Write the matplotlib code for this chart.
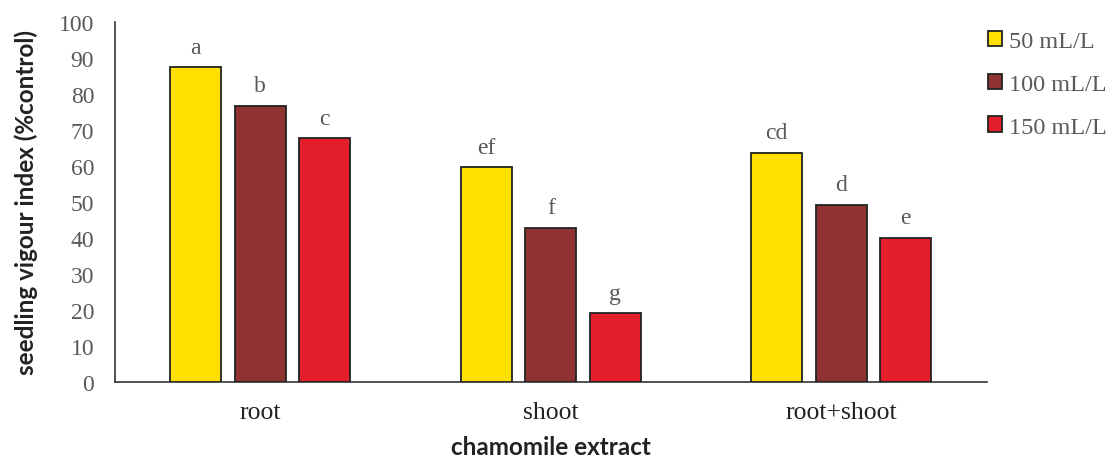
import numpy as np
import matplotlib.pyplot as plt

# Data
categories = ['root', 'shoot', 'root+shoot']
series = ['50 mL/L', '100 mL/L', '150 mL/L']
v50 = [87.4, 59.6, 63.6]
v100 = [76.8, 42.8, 49.2]
v150 = [67.7, 19.1, 40.0]
letters50 = ['a', 'ef', 'cd']
letters100 = ['b', 'f', 'd']
letters150 = ['c', 'g', 'e']

colors = ['#FFE000', '#8E3232', '#E41E2A']
serif = 'Liberation Serif'
gray = '#595959'

fig = plt.figure(figsize=(11.11, 4.6), dpi=100)
ax = fig.add_axes([0.1035, 0.1674, 0.7845, 0.7826])

x = np.arange(len(categories))
width = 0.175
offsets = [-0.222, 0.0, 0.222]
handles = []
for vals, labs, off, col, name in zip([v50, v100, v150],
                                      [letters50, letters100, letters150],
                                      offsets, colors, series):
    b = ax.bar(x + off, vals, width, color=col, edgecolor='#222222',
               linewidth=1.3, label=name, zorder=3)
    handles.append(b)
    for xi, v, t in zip(x + off, vals, labs):
        ax.annotate(t, (xi, v), xytext=(0, 7), textcoords='offset points',
                    ha='center', va='bottom', fontsize=17, color=gray,
                    family=serif)

ax.set_xlim(-0.5, 2.5)
ax.set_ylim(0, 100)
ax.set_yticks(range(0, 101, 10))
ax.set_xticks(x)
ax.set_xticklabels(categories, family=serif, fontsize=18.5, color='#222222')
for lab in ax.get_yticklabels():
    lab.set_family(serif)
    lab.set_fontsize(17)
    lab.set_color(gray)
ax.tick_params(axis='both', length=0)
ax.tick_params(axis='y', pad=15)
ax.tick_params(axis='x', pad=14)
for s in ['top', 'right']:
    ax.spines[s].set_visible(False)
for s in ['left', 'bottom']:
    ax.spines[s].set_color('#333333')
    ax.spines[s].set_linewidth(1.2)

ax.set_ylabel('seedling vigour index (%control)', family='Lato',
              fontweight='bold', fontsize=17.5, color='#222222', labelpad=15)
ax.set_xlabel('chamomile extract', family='Lato', fontweight='bold',
              fontsize=17.5, color='#222222', labelpad=8)

fig.legend(handles=handles, loc='upper left', bbox_to_anchor=(0.870, 0.978),
           frameon=False, prop={'family': serif, 'size': 17.5},
           labelcolor=gray, handlelength=0.55, handleheight=0.6,
           handletextpad=0.3, labelspacing=0.88)

fig.savefig('out.png', dpi=100)
